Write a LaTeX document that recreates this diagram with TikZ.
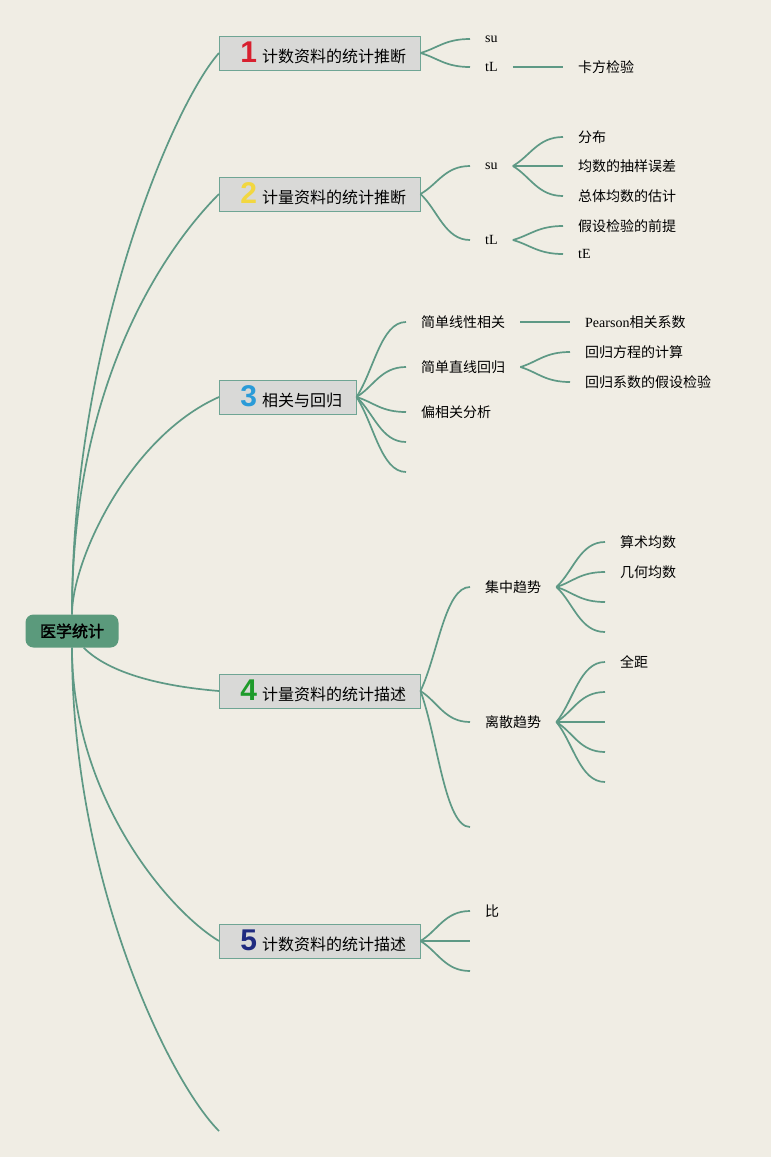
\documentclass[tikz,border=0pt]{standalone}
\usepackage{fontspec}
\setmainfont{Liberation Serif}
\newfontfamily\cjk{Noto Sans CJK SC}
\newfontfamily\cjkb[FakeBold=2]{Noto Sans CJK SC}
\newfontfamily\numfont{Liberation Sans}
\usetikzlibrary{calc,positioning}
\definecolor{paper}{HTML}{F0EDE4}
\definecolor{twigcol}{HTML}{5E9985}
\definecolor{rootcol}{HTML}{5B9A7C}
\definecolor{boxcol}{HTML}{D9D9D7}
\definecolor{boxline}{HTML}{6FA594}
\definecolor{numa}{HTML}{D8202F}
\definecolor{numb}{HTML}{F2D740}
\definecolor{numc}{HTML}{2A9BD8}
\definecolor{numd}{HTML}{1E9B2B}
\definecolor{nume}{HTML}{1F2A80}
\newcommand{\num}[2]{\hspace{7pt}{\numfont\bfseries\fontsize{30}{30}\selectfont\color{#1}#2}\hspace{5pt}}

\begin{document}
\begin{tikzpicture}[x=1pt,y=-1pt,
	rootbox/.style={draw=none, fill=rootcol, rounded corners=8pt, minimum width=93pt, minimum height=33pt, font=\cjkb\fontsize{16}{18}\selectfont},
	topic/.style={draw=boxline, line width=0.8pt, fill=boxcol, anchor=west, minimum height=34pt, inner xsep=14pt, inner ysep=0pt, font=\cjk\fontsize{16}{18}\selectfont},
	leaf/.style={anchor=west, inner xsep=15pt, inner ysep=2pt, font=\cjk\fontsize{14}{16}\selectfont},
	latin/.style={anchor=west, inner xsep=15pt, inner ysep=2pt, font=\fontsize{14}{16}\selectfont},
	trunk/.style={draw=twigcol, line width=1.7pt},
	twig/.style={draw=twigcol, line width=1.7pt, to path={.. controls ($(\tikztostart)!0.35!(\tikztotarget)$) and ($(\tikztotarget)+(-25,0)$) .. (\tikztotarget) \tikztonodes}}]
			%%%%% PAGE %%%%%
			\fill[paper] (0,0) rectangle (771,1157);
			\useasboundingbox (0,0) rectangle (771,1157);
			
			%%%%% ROOT AND TOPICS %%%%%
			\node[rootbox] (root) at (72,631) {医学统计};
			\node[topic] (b1) at (219,53) {\num{numa}{1}计数资料的统计推断};
			\node[topic] (b2) at (219,194) {\num{numb}{2}计量资料的统计推断};
			\node[topic] (b3) at (219,397) {\num{numc}{3}相关与回归};
			\node[topic] (b4) at (219,691) {\num{numd}{4}计量资料的统计描述};
			\node[topic] (b5) at (219,941) {\num{nume}{5}计数资料的统计描述};
			\coordinate (b6) at (219,1131);
			
			\draw[trunk] (root.north) .. controls +(0,-274) and +(-45,50) .. (b1.west);
			\draw[trunk] (root.north) .. controls +(0,-250) and +(-40,40) .. (b2.west);
			\draw[trunk] (root.north) .. controls +(0,-54) and +(-90,40) .. (b3.west);
			\draw[trunk] (root.-55) .. controls +(25,25) and +(-60,-5) .. (b4.west);
			\draw[trunk] (root.south) .. controls +(0,150) and +(-50,-30) .. (b5.west);
			\draw[trunk] (root.south) .. controls +(0,233) and +(-50,-50) .. (b6);
			
			%%%%% BRANCH 1 %%%%%
			\node[latin] (b1su) at (470,39) {su};
			\node[latin] (b1tl) at (470,67) {tL};
			\node[leaf] (b1ka) at (563,67) {卡方检验};
			\draw[twig] (b1.east) to (b1su.west);
			\draw[twig] (b1.east) to (b1tl.west);
			\draw[trunk] (b1tl.east) -- (b1ka.west);
			
			%%%%% BRANCH 2 %%%%%
			\node[latin] (b2su) at (470,166) {su};
			\node[latin] (b2tl) at (470,240) {tL};
			\node[leaf] (b2fb) at (563,137) {分布};
			\node[leaf] (b2wc) at (563,166) {均数的抽样误差};
			\node[leaf] (b2gj) at (563,196) {总体均数的估计};
			\node[leaf] (b2qt) at (563,226) {假设检验的前提};
			\node[latin] (b2te) at (563,254) {tE};
			\draw[twig] (b2.east) to (b2su.west);
			\draw[twig] (b2.east) to (b2tl.west);
			\foreach \n in {b2fb,b2wc,b2gj}
				\draw[twig] (b2su.east) to (\n.west);
			\foreach \n in {b2qt,b2te}
				\draw[twig] (b2tl.east) to (\n.west);
			
			%%%%% BRANCH 3 %%%%%
			\node[leaf] (b3xg) at (406,322) {简单线性相关};
			\node[leaf] (b3hg) at (406,367) {简单直线回归};
			\node[leaf] (b3pf) at (406,412) {偏相关分析};
			\coordinate (b3k1) at (406,442);
			\coordinate (b3k2) at (406,472);
			\node[latin] (b3ps) at (570,322) {Pearson{\cjk 相关系数}};
			\node[leaf] (b3fc) at (570,352) {回归方程的计算};
			\node[leaf] (b3jy) at (570,382) {回归系数的假设检验};
			\foreach \n in {b3xg.west,b3hg.west,b3pf.west,b3k1,b3k2}
				\draw[twig] (b3.east) to (\n);
			\draw[trunk] (b3xg.east) -- (b3ps.west);
			\draw[twig] (b3hg.east) to (b3fc.west);
			\draw[twig] (b3hg.east) to (b3jy.west);
			
			%%%%% BRANCH 4 %%%%%
			\node[leaf] (b4jz) at (470,587) {集中趋势};
			\node[leaf] (b4ls) at (470,722) {离散趋势};
			\coordinate (b4k1) at (470,827);
			\node[leaf] (b4ss) at (605,542) {算术均数};
			\node[leaf] (b4jh) at (605,572) {几何均数};
			\coordinate (b4k2) at (605,602);
			\coordinate (b4k3) at (605,632);
			\node[leaf] (b4qj) at (605,662) {全距};
			\coordinate (b4k4) at (605,692);
			\coordinate (b4k5) at (605,722);
			\coordinate (b4k6) at (605,752);
			\coordinate (b4k7) at (605,782);
			\foreach \n in {b4jz.west,b4ls.west,b4k1}
				\draw[twig] (b4.east) to (\n);
			\foreach \n in {b4ss.west,b4jh.west,b4k2,b4k3}
				\draw[twig] (b4jz.east) to (\n);
			\foreach \n in {b4qj.west,b4k4,b4k5,b4k6,b4k7}
				\draw[twig] (b4ls.east) to (\n);
			
			%%%%% BRANCH 5 %%%%%
			\node[leaf] (b5bi) at (470,911) {比};
			\coordinate (b5k1) at (470,941);
			\coordinate (b5k2) at (470,971);
			\foreach \n in {b5bi.west,b5k1,b5k2}
				\draw[twig] (b5.east) to (\n);
			
			%%%%% END %%%%%
\end{tikzpicture}
\end{document}
